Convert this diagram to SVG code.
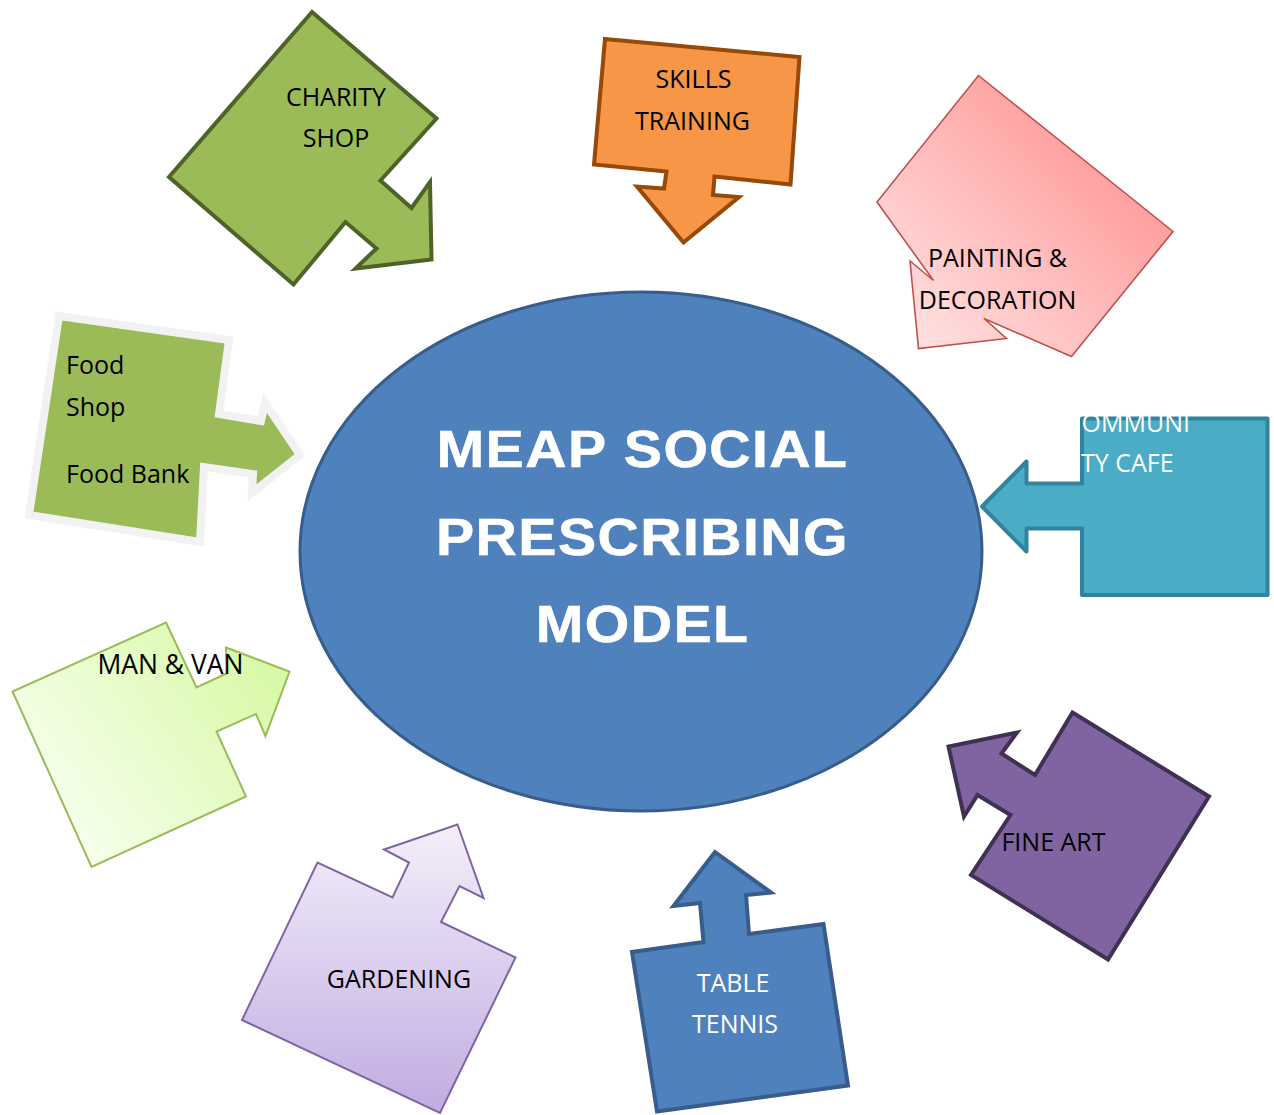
<svg xmlns="http://www.w3.org/2000/svg" width="1274" height="1115" viewBox="0 0 1274 1115">
  <style>
    .lbl { font-family: "Open Sans", "Liberation Sans", sans-serif; font-size: 25px; fill: #000; }
    .lbl.w { fill: #fff; }
    .lbl.big { font-size: 26.5px; }
    .mid { text-anchor: middle; }
    .hub { font-family: "Liberation Sans", Arial, sans-serif; font-weight: bold; font-size: 52px; letter-spacing: 1.3px; fill: #fff; text-anchor: middle; stroke: #fff; stroke-width: 0.6px; }
    .heavy { stroke-width: 4; stroke-linejoin: miter; }
  </style>
  <defs>
    <linearGradient id="gPaint" gradientUnits="userSpaceOnUse" x1="915" y1="345" x2="1110" y2="150">
      <stop offset="0" stop-color="#ffe1e1"/>
      <stop offset="1" stop-color="#ff9c9c"/>
    </linearGradient>
    <linearGradient id="gVan" gradientUnits="userSpaceOnUse" x1="60" y1="820" x2="280" y2="660">
      <stop offset="0" stop-color="#f6ffec"/>
      <stop offset="1" stop-color="#d6f9a4"/>
    </linearGradient>
    <linearGradient id="gGarden" gradientUnits="userSpaceOnUse" x1="0" y1="830" x2="0" y2="1110">
      <stop offset="0" stop-color="#f2eef9"/>
      <stop offset="1" stop-color="#c2ace2"/>
    </linearGradient>
    <clipPath id="cafeClip">
      <rect x="1081" y="415" width="190" height="180"/>
    </clipPath>
  </defs>

  <rect width="1274" height="1115" fill="#fff"/>

  <!-- central hub -->
  <g id="hub">
    <ellipse cx="641" cy="551.5" rx="341" ry="259.5" fill="#4f81bd" stroke="#385d8a" stroke-width="3"/>
    <g transform="translate(642.5,0) scale(1.1,1)">
      <text class="hub" x="0" y="467">MEAP SOCIAL</text>
      <text class="hub" x="0" y="555">PRESCRIBING</text>
      <text class="hub" x="0" y="642">MODEL</text>
    </g>
  </g>

  <!-- activity callouts, each pointing at the hub -->
  <g id="charity-shop">
    <polygon class="heavy" fill="#9bbb59" stroke="#4f6228"
      points="312,12 436.5,118.5 380.5,180.5 411.5,208 430,182 431.5,259.5 355.5,268.5 376.5,248.5 345.5,222 293.5,284.5 169,177"/>
    <text class="lbl mid" x="336" y="106">CHARITY</text>
    <text class="lbl mid" x="336" y="147">SHOP</text>
  </g>

  <g id="skills-training">
    <polygon class="heavy" fill="#f79646" stroke="#984807"
      points="605,39 799.5,57 790.5,184.5 714.5,176.5 713,195 739,197 683.5,242.5 637,186.5 664,188.5 666.5,171.5 594,164.5"/>
    <text class="lbl mid" x="693.5" y="88">SKILLS</text>
    <text class="lbl mid" x="692.5" y="130">TRAINING</text>
  </g>

  <g id="painting-decoration">
    <polygon fill="url(#gPaint)" stroke="#c0504d" stroke-width="1.6"
      points="978.5,75.5 1173,231.5 1071.5,356.5 984,318.5 1006.5,338.5 918.5,348.5 910,261 933.5,280.5 877,202"/>
    <text class="lbl mid" x="997.5" y="267">PAINTING &amp;</text>
    <text class="lbl mid" x="997.5" y="309">DECORATION</text>
  </g>

  <g id="food-shop">
    <polygon fill="#9bbb59" stroke="#f2f2f2" stroke-width="8"
      points="59,316 229,340 219,414 261,421 265,403 300,455 252,493 253,474 204,467 200,542 29,515"/>
    <text class="lbl" x="66" y="374">Food</text>
    <text class="lbl" x="66" y="416">Shop</text>
    <text class="lbl" x="66" y="483">Food Bank</text>
  </g>

  <g id="community-cafe">
    <polygon fill="#4bacc6" stroke="#31849b" stroke-width="4" stroke-linejoin="round"
      points="1082,418.5 1267.5,418.5 1267.5,595 1082,595 1082,528.5 1026.5,528.5 1026.5,551.5 982,506.5 1026.5,461.5 1026.5,483.5 1082,483.5"/>
    <g clip-path="url(#cafeClip)">
      <text class="lbl w" x="1190" y="432" text-anchor="end">OMMUNI</text>
      <text class="lbl w" x="1081" y="472">TY CAFE</text>
    </g>
  </g>

  <g id="man-van">
    <polygon fill="url(#gVan)" stroke="#9bbb59" stroke-width="2"
      points="166,622.5 196.5,687.5 226.5,673.5 226,647.5 289.5,671.5 265.5,736 256,714 216.5,731.5 246,796.5 91.5,867 12.5,691.5"/>
    <text class="lbl big mid" x="170.5" y="674">MAN &amp; VAN</text>
  </g>

  <g id="fine-art">
    <polygon class="heavy" fill="#8064a2" stroke="#3f3151"
      points="1072.5,712.5 1209,796.5 1108,959.5 971,875 1010.5,815 977.5,795 964,816.5 948.5,746.5 1017,732.5 1001.5,753.5 1035,775"/>
    <text class="lbl mid" x="1053.5" y="851">FINE ART</text>
  </g>

  <g id="gardening">
    <polygon fill="url(#gGarden)" stroke="#8064a2" stroke-width="2"
      points="457.5,824.5 483.5,898 459.5,886 441,922 515.5,957.5 440,1113 242,1020 317.5,862.5 392.5,897.5 409,862.5 384,849.5"/>
    <text class="lbl mid" x="399" y="988">GARDENING</text>
  </g>

  <g id="table-tennis">
    <polygon class="heavy" fill="#4f81bd" stroke="#385d8a"
      points="715,852 771,892.5 746,895 749,934 823.5,924 848,1085.5 657,1111.5 632,952 703.5,942 700,903 673.5,906"/>
    <text class="lbl w mid" x="733" y="992">TABLE</text>
    <text class="lbl w mid" x="735" y="1033">TENNIS</text>
  </g>
</svg>
